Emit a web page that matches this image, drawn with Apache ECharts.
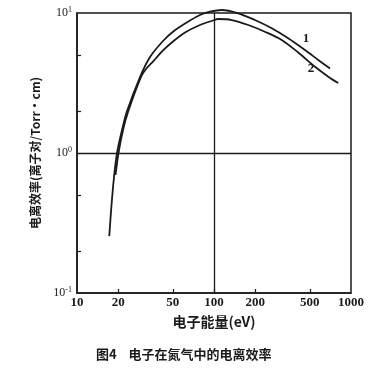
<!DOCTYPE html>
<html><head><meta charset="utf-8">
<script src="https://cdn.jsdelivr.net/npm/echarts@6/dist/echarts.min.js"></script>
<style>html,body{margin:0;padding:0;background:#fff}#c{width:373px;height:382px}</style>
</head><body><div id="c"></div>
<script>
// Electron energy (eV) and ionization efficiency (ion pairs / Torr·cm)
const energy1 = [17.2, 17.86, 18.63, 19.59, 21.31, 23.06, 28.84, 34.12, 42.44, 50.45, 63.2, 79.0, 93.5, 113.8, 150.4, 199, 264, 348, 461, 577, 703];
const eff1    = [0.255, 0.425, 0.674, 1.0, 1.46, 1.963, 3.49, 4.85, 6.31, 7.38, 8.55, 9.68, 10.21, 10.51, 9.95, 8.91, 7.78, 6.6, 5.44, 4.62, 4.01];
const energy2 = [19.10, 20.09, 21.67, 23.57, 29.32, 31.89, 35.87, 42.44, 50.2, 61.4, 79.0, 98.3, 107, 135, 178, 235, 312, 412, 546, 683, 807];
const eff2    = [0.697, 1.0, 1.46, 1.963, 3.49, 3.98, 4.50, 5.40, 6.26, 7.26, 8.21, 8.84, 9.06, 8.91, 8.21, 7.35, 6.42, 5.22, 4.13, 3.51, 3.16];
const xTickLabels = [10, 20, 50, 100, 200, 500, 1000];
const yTickLabels = [0.1, 1, 10];
const yMinorTicks = [0.2, 0.5, 2, 5];
const seriesNames = ['1', '2'];
const curveLabelPos = [[470, 6.6], [511, 4.03]];
const xTitle = '电子能量(eV)';
const yTitle = '电离效率(离子对/Torr·cm)';
const caption = '图4    电子在氮气中的电离效率';

const ink = '#1a1a1a';
const numFont = 'Liberation Serif';
const cjkFont = 'Noto Sans CJK SC';
const lg = v => Math.log10(v);

const chart = echarts.init(document.getElementById('c'), null, {renderer: 'canvas'});

const option = {
  backgroundColor: '#fff',
  animation: false,
  grid: {left: 77, right: 22, top: 13, bottom: 89, show: true, borderColor: ink, borderWidth: 1.5, backgroundColor: 'transparent'},
  xAxis: [
    {type: 'log', logBase: 10, min: 10, max: 1000, show: false},
    {type: 'value', min: 1, max: 3, position: 'bottom', z: 10,
     name: xTitle, nameLocation: 'middle', nameGap: 22,
     nameTextStyle: {fontFamily: cjkFont, fontWeight: 'bold', fontSize: 14, color: ink},
     axisLine: {show: true, onZero: false, lineStyle: {color: ink, width: 1.5}}, splitLine: {show: false},
     axisTick: {show: true, inside: true, length: 4, lineStyle: {color: ink, width: 1.2},
                customValues: xTickLabels.slice(1, -1).map(lg)},
     axisLabel: {customValues: xTickLabels.map(lg), margin: 3,
                 formatter: v => String(Math.round(Math.pow(10, v))),
                 fontFamily: numFont, fontWeight: 'bold', fontSize: 13, color: ink}}
  ],
  yAxis: [
    {type: 'log', logBase: 10, min: 0.1, max: 10, show: false},
    {type: 'value', min: -1, max: 1, position: 'left', z: 10,
     name: yTitle, nameLocation: 'middle', nameGap: 36, nameRotate: 90,
     nameTextStyle: {fontFamily: cjkFont, fontWeight: 'bold', fontSize: 12, color: ink},
     axisLine: {show: true, onZero: false, lineStyle: {color: ink, width: 1.5}}, splitLine: {show: false},
     axisTick: {show: true, inside: true, length: 4, lineStyle: {color: ink, width: 1.2},
                customValues: yMinorTicks.map(lg)},
     axisLabel: {customValues: yTickLabels.map(lg), margin: 5,
                 formatter: v => '{b|10}{s|' + (Math.round(v) < 0 ? '-' : '') + Math.abs(Math.round(v)) + '}',
                 rich: {b: {fontFamily: numFont, fontSize: 12, color: ink},
                        s: {fontFamily: numFont, fontSize: 8, color: ink, verticalAlign: 'top', padding: [0, 0, 6, 0]}}}}
  ],
  series: [
    {name: seriesNames[0], type: 'line', xAxisIndex: 0, yAxisIndex: 0,
     data: energy1.map((e, i) => [e, eff1[i]]), smooth: 0.3, showSymbol: false, symbol: 'none',
     lineStyle: {color: ink, width: 1.8}, clip: false,
     markLine: {silent: true, symbol: 'none', label: {show: false},
                lineStyle: {color: ink, width: 1.3, type: 'solid'},
                data: [{xAxis: 100}, {yAxis: 1}]},
     markPoint: {symbol: 'circle', symbolSize: 0, silent: true,
                 label: {show: true, formatter: seriesNames[0], fontFamily: numFont, fontSize: 13, fontWeight: 'bold', color: ink},
                 data: [{coord: curveLabelPos[0]}]}},
    {name: seriesNames[1], type: 'line', xAxisIndex: 0, yAxisIndex: 0,
     data: energy2.map((e, i) => [e, eff2[i]]), smooth: 0.3, showSymbol: false, symbol: 'none',
     lineStyle: {color: ink, width: 1.8}, clip: false,
     markPoint: {symbol: 'circle', symbolSize: 0, silent: true,
                 label: {show: true, formatter: seriesNames[1], fontFamily: numFont, fontSize: 13, fontWeight: 'bold', color: ink},
                 data: [{coord: curveLabelPos[1]}]}}
  ],
  graphic: [
    {type: 'text', left: 96, top: 348,
     style: {text: caption, fontFamily: cjkFont, fontWeight: 'bold', fontSize: 13, fill: ink}}
  ]
};
chart.setOption(option);
</script></body></html>
